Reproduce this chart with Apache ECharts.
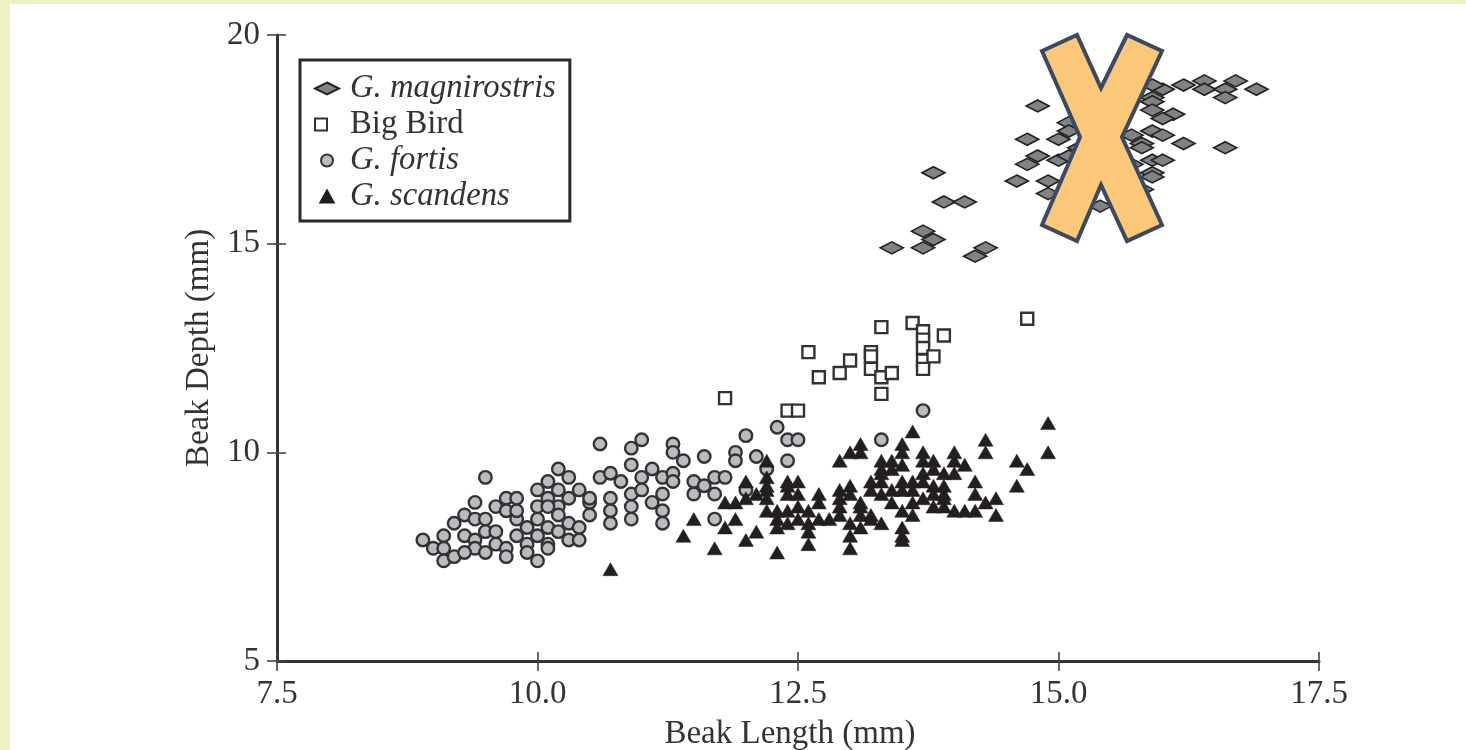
<!DOCTYPE html>
<html>
<head>
<meta charset="utf-8">
<style>
html,body{margin:0;padding:0;width:1466px;height:750px;overflow:hidden;background:#eef1c3;}
#panel{position:absolute;left:10px;top:4px;width:1456px;height:746px;background:#fff;}
#chart{position:absolute;left:0;top:0;width:1466px;height:750px;}
</style>
<script src="https://cdn.jsdelivr.net/npm/echarts@6/dist/echarts.min.js"></script>
</head>
<body>
<div id="panel"></div>
<div id="chart"></div>
<script>
const magnirostris = [[13.4,14.9],[13.7,14.9],[13.7,15.3],[13.8,15.1],[13.8,16.7],[13.9,16.0],[14.1,16.0],[14.2,14.7],[14.3,14.9],[14.6,16.5],
[14.8,18.3],[14.7,17.5],[14.8,17.1],[14.7,16.9],[15.0,17.5],[15.0,17.0],[15.1,17.1],[14.9,16.5],[14.9,16.2],[15.1,17.9],[15.1,17.7],[15.4,15.9],
[16.2,18.8],[16.4,18.9],[16.7,18.9],[16.4,18.7],[16.6,18.7],[16.6,18.5],[16.9,18.7],[16.0,18.7],[15.9,18.8],[15.9,18.5],[15.9,18.4],[15.9,18.2],
[16.1,18.1],[16.0,18.0],[15.9,17.7],[16.0,17.6],[15.7,17.6],[16.2,17.4],[16.6,17.3],[15.8,17.4],[15.8,17.3],[15.9,17.0],[16.0,17.0],[15.7,16.9],
[15.9,16.7],[15.9,16.6],[15.8,16.3],[15.2,17.3],[15.3,16.8],[15.4,18.0],[15.5,16.4],[15.6,17.0]];
const bigBird = [[11.8,11.3],[12.4,11.0],[12.5,11.0],[12.6,12.4],[12.7,11.8],[12.9,11.9],[13.0,12.2],[13.2,12.4],[13.2,12.3],[13.2,12.0],[13.3,13.0],
[13.3,11.4],[13.3,11.8],[13.4,11.9],[13.6,13.1],[13.7,12.9],[13.7,12.7],[13.7,12.5],[13.7,12.2],[13.8,12.3],[13.7,12.0],[13.9,12.8],[14.7,13.2]];
const fortis = [[8.9,7.9],[9.0,7.7],[9.1,8.0],[9.1,7.7],[9.1,7.4],[9.2,7.5],[9.2,8.3],[9.3,8.0],[9.3,8.5],[9.4,8.8],[9.4,8.4],[9.4,7.9],[9.4,7.7],[9.3,7.6],
[9.5,8.4],[9.5,8.1],[9.5,9.4],[9.6,7.8],[9.5,7.6],[9.6,8.1],[9.6,8.7],[9.7,8.9],[9.7,8.6],[9.8,8.4],[9.8,8.6],[9.8,8.9],[9.7,7.7],[9.7,7.5],[9.8,8.0],
[9.9,8.2],[9.9,7.8],[9.9,7.6],[10.0,8.0],[10.0,8.4],[10.0,8.7],[10.0,9.1],[10.1,9.3],[10.1,8.9],[10.2,8.7],[10.1,8.7],[10.1,8.2],[10.2,8.1],[10.1,7.8],
[10.1,7.7],[10.0,7.4],[10.2,8.5],[10.2,9.6],[10.3,9.4],[10.2,9.1],[10.3,8.9],[10.4,9.1],[10.5,8.8],[10.5,8.9],[10.5,8.5],[10.3,8.3],[10.4,8.2],[10.3,7.9],
[10.4,7.9],[10.6,10.2],[10.6,9.4],[10.7,9.5],[10.7,8.9],[10.7,8.6],[10.7,8.3],[10.8,9.3],[10.9,10.1],[11.0,10.3],[10.9,9.7],[10.9,9.0],[10.9,8.7],[10.9,8.4],
[11.0,9.4],[11.1,9.6],[11.2,9.4],[11.0,9.1],[11.1,8.8],[11.2,9.0],[11.2,8.6],[11.2,8.3],[11.3,9.5],[11.3,9.3],[11.3,10.2],[11.3,10.0],[11.4,9.8],[11.6,9.9],
[11.5,9.3],[11.5,9.0],[11.6,9.2],[11.7,9.4],[11.7,9.0],[11.7,8.4],[11.8,9.4],[12.0,10.4],[11.9,10.0],[11.9,9.8],[12.1,9.9],[12.0,9.1],[12.2,9.6],[12.3,10.6],
[12.4,10.3],[12.5,10.3],[12.4,9.8],[13.3,10.3],[13.7,11.0]];
const scandens = [[10.7,7.2],[14.9,10.7],[14.9,10.0],[13.6,10.5],[14.3,10.3],[14.3,10.0],[14.6,9.8],[14.7,9.6],[14.6,9.2],[14.4,8.9],[14.4,8.5],[14.3,8.8],[14.2,8.6],
[14.2,9.3],[14.2,9.0],[14.1,8.6],[14.0,8.6],[14.1,9.7],[14.0,10.0],[14.0,9.8],[14.0,9.5],[13.9,9.2],[13.9,9.0],[13.9,8.9],[13.9,8.7],[13.8,9.8],[13.8,9.6],[13.9,9.5],
[13.8,9.2],[13.8,8.7],[13.7,10.0],[13.7,9.8],[13.7,9.5],[13.7,9.3],[13.7,8.9],[13.8,9.0],[13.6,9.1],[13.6,8.8],[13.6,8.5],[13.5,8.6],[13.6,9.3],[13.5,9.7],[13.5,10.2],
[13.5,10.0],[13.4,9.8],[13.4,9.6],[13.5,9.3],[13.5,9.1],[13.4,8.8],[13.4,9.1],[13.5,8.2],[13.5,8.0],[13.5,7.9],[13.3,9.8],[13.3,9.6],[13.3,9.5],[13.2,9.3],[13.2,9.1],
[13.3,9.3],[13.3,9.0],[13.3,8.3],[13.2,8.5],[13.2,8.4],[13.1,8.8],[13.1,10.2],[13.1,10.0],[13.0,10.0],[12.9,9.8],[13.0,9.2],[13.0,9.0],[13.1,8.7],[13.1,8.5],[13.0,8.3],
[13.1,8.2],[13.0,8.0],[13.0,7.7],[12.9,9.1],[12.9,8.9],[12.9,8.7],[12.9,8.5],[12.8,8.4],[12.7,9.0],[12.7,8.8],[12.7,8.4],[12.6,8.3],[12.6,8.6],[12.5,8.4],[12.5,9.0],
[12.5,8.7],[12.4,8.3],[12.6,8.1],[12.6,7.8],[12.5,9.3],[12.4,9.3],[12.4,9.0],[12.4,9.2],[12.3,8.6],[12.4,8.6],[12.3,8.4],[12.3,8.2],[12.3,7.6],[12.2,9.8],[12.2,9.4],
[12.2,9.2],[12.2,9.1],[12.1,9.0],[12.2,8.9],[12.2,8.6],[12.0,9.3],[12.0,8.9],[11.9,8.8],[11.8,8.8],[11.9,8.4],[11.8,8.2],[11.5,8.4],[11.4,8.0],[11.7,7.7],[12.0,7.9],[12.1,8.1]];
const seriesNames = ['G. magnirostris','Big Bird','G. fortis','G. scandens'];
const xAxisTitle = 'Beak Length (mm)';
const yAxisTitle = 'Beak Depth (mm)';

const SERIF = '"Liberation Serif", serif';
const INK = '#333';
const FS = 33;
const chart = echarts.init(document.getElementById('chart'), null, {renderer:'canvas'});
const tickLabel = {fontFamily:SERIF,fontSize:FS,color:'#333'};
const richRow = {fontFamily:SERIF,fontSize:32.7,color:'#333',padding:[0,0,0,6]};
chart.setOption({
  animation:false,
  backgroundColor:'transparent',
  grid:{left:277,right:147,top:35,bottom:89,containLabel:false,outerBoundsMode:'none'},
  legend:{
    left:300,top:60,orient:'vertical',
    padding:[12,14,8,14],
    itemGap:3,itemWidth:24,itemHeight:12,
    borderColor:'#2a2a2a',borderWidth:3,backgroundColor:'#fff',
    selectedMode:false,
    data:[
      {name:seriesNames[0],icon:'diamond'},
      {name:seriesNames[1],icon:'square'},
      {name:seriesNames[2],icon:'circle'},
      {name:seriesNames[3],icon:'path://M5 0L10 9L0 9Z'}
    ],
    formatter:n=>n==='Big Bird'?'{n|'+n+'}':'{i|'+n+'}',
    textStyle:{
      fontFamily:SERIF,fontSize:FS,color:'#333',
      rich:{
        i:Object.assign({fontStyle:'italic'},richRow),
        n:Object.assign({},richRow)
      }
    }
  },
  xAxis:[
    {type:'value',min:7.5,max:17.5,interval:2.5,position:'bottom',splitLine:{show:false},
     name:xAxisTitle,nameLocation:'middle',nameGap:57,nameTextStyle:{fontFamily:SERIF,fontSize:FS,color:'#333',padding:[0,16,0,0]},
     axisLine:{onZero:false,lineStyle:{color:INK,width:3}},
     axisTick:{show:true,length:10,lineStyle:{color:'#444',width:1.6}},
     axisLabel:Object.assign({margin:17,formatter:v=>v.toFixed(1),showMinLabel:true,showMaxLabel:true},tickLabel)},
    {type:'value',min:7.5,max:17.5,interval:2.5,position:'bottom',splitLine:{show:false},
     axisLine:{show:false},axisLabel:{show:false},
     axisTick:{show:true,inside:true,length:9,lineStyle:{color:'#444',width:1.6}}}
  ],
  yAxis:[
    {type:'value',min:5,max:20,interval:5,position:'left',splitLine:{show:false},
     name:yAxisTitle,nameLocation:'middle',nameGap:60,nameTextStyle:{fontFamily:SERIF,fontSize:FS,color:'#333'},
     axisLine:{onZero:false,lineStyle:{color:INK,width:3}},
     axisTick:{show:true,length:10,lineStyle:{color:'#444',width:1.6}},
     axisLabel:Object.assign({margin:17,padding:[5,0,0,0],showMinLabel:true,showMaxLabel:true},tickLabel)},
    {type:'value',min:5,max:20,interval:5,position:'left',splitLine:{show:false},
     axisLine:{show:false},axisLabel:{show:false},
     axisTick:{show:true,inside:true,length:9,lineStyle:{color:'#444',width:1.6}}}
  ],
  series:[
    {name:seriesNames[0],type:'scatter',data:magnirostris,symbol:'diamond',symbolSize:[23,12],
     itemStyle:{color:'#808285',borderColor:'#222',borderWidth:1.8,opacity:1},z:2,silent:true},
    {name:seriesNames[1],type:'scatter',data:bigBird,symbol:'rect',symbolSize:12,
     itemStyle:{color:'#fff',borderColor:'#333',borderWidth:2.4,opacity:1},z:2,silent:true},
    {name:seriesNames[2],type:'scatter',data:fortis,symbol:'circle',symbolSize:12.5,
     itemStyle:{color:'#b9bbc0',borderColor:'#333',borderWidth:2.4,opacity:1},z:2,silent:true},
    {name:seriesNames[3],type:'scatter',data:scandens,symbol:'triangle',symbolSize:[15,13],
     itemStyle:{color:'#231f20',borderColor:'#231f20',borderWidth:0.5,opacity:1},z:3,silent:true}
  ],
  graphic:[{
    type:'polygon',z:100,silent:true,
    shape:{points:[[1042,51],[1077,35],[1101,88],[1127,35],[1162,51],[1122,137],[1162,225],[1127,241],[1101,185],[1077,241],[1042,225],[1080,137]]},
    style:{fill:'#fac878',stroke:'#3b4a63',lineWidth:4,lineJoin:'miter'}
  }]
});
</script>
</body>
</html>
